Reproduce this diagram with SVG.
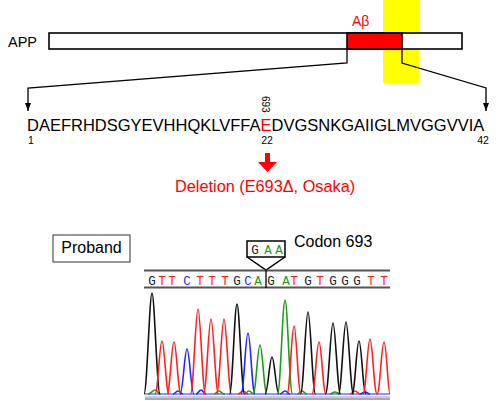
<svg xmlns="http://www.w3.org/2000/svg" width="500" height="401" viewBox="0 0 500 401">
<defs>
<style>
.t{font-family:"Liberation Sans",Arial,sans-serif;}
.red{fill:#ff0000;}
.conn{fill:none;stroke:#000;stroke-width:1.3;}
.b{font-family:"Liberation Mono","Courier New",monospace;font-size:12.5px;text-anchor:middle;}
.G{fill:#222;}.A{fill:#1a9a1a;}.T{fill:#ff1a1a;}.C{fill:#2a2aff;}
.pk{fill:none;stroke-width:1.6;stroke-linejoin:round;}
.pG{stroke:#111;}.pA{stroke:#1aa01a;}.pT{stroke:#ff2020;}.pC{stroke:#2424ff;}
</style>
<marker id="ah" markerUnits="userSpaceOnUse" markerWidth="8" markerHeight="6" refX="8" refY="3" orient="auto">
<path d="M0,0 L8,3 L0,6 z" fill="#000"/>
</marker>
</defs>
<rect width="500" height="401" fill="#fff"/>

<g id="highlight"><rect x="383" y="0" width="36" height="83" fill="#ffff00"/></g>

<g id="app">
<text class="t" x="8" y="47" font-size="14.5">APP</text>
<rect x="49" y="33" width="413" height="16" fill="#fff" stroke="#000" stroke-width="1.6"/>
<rect x="347" y="33" width="55" height="16" fill="#ff0000" stroke="#000" stroke-width="1.6"/>
<text class="t red" x="352" y="26" font-size="14">Aβ</text>
</g>

<g id="connectors">
<polyline class="conn" points="347,49 347,63 28,88 28,111" marker-end="url(#ah)"/>
<polyline class="conn" points="402,49 402,63 486,88 486,111" marker-end="url(#ah)"/>
<path d="M265,153 H270 V162 H277 L267.5,172 L258,162 H265 Z" fill="#ff0000"/>
</g>

<g id="sequence">
<text class="t" x="27" y="131" font-size="16.5">DAEFRHDSGYEVHHQKLVFFA<tspan class="red">E</tspan>DVGSNKGAIIGLMVGGVVIA</text>
<text class="t" x="31" y="144" font-size="10.5" text-anchor="middle">1</text>
<text class="t" x="267" y="144" font-size="10.5" text-anchor="middle">22</text>
<text class="t" x="483" y="144" font-size="10.5" text-anchor="middle">42</text>
<text class="t" font-size="10" transform="translate(262,96) rotate(90)">693</text>
</g>

<g id="deletion">
<text class="t red" x="175" y="192" font-size="16.3">Deletion (E693Δ, Osaka)</text>
</g>

<g id="proband">
<rect x="53" y="235" width="77" height="27" fill="#fff" stroke="#333" stroke-width="1"/>
<text class="t" x="91.5" y="253" font-size="16" text-anchor="middle">Proband</text>
</g>

<g id="codon">
<text class="t" x="294" y="247" font-size="16">Codon 693</text>
<rect x="247" y="241" width="38" height="16" fill="#fff" stroke="#000" stroke-width="1.5"/>
<polyline points="247,257 266,270 285,257" fill="none" stroke="#000" stroke-width="1.5"/>
<text class="b G" x="255" y="253.5">G</text>
<text class="b A" x="268" y="253.5">A</text>
<text class="b A" x="279" y="253.5">A</text>
</g>

<g id="trace-seq">
<line x1="144" y1="270.5" x2="390" y2="270.5" stroke="#555" stroke-width="2"/>
<line x1="144" y1="287.5" x2="390" y2="287.5" stroke="#555" stroke-width="2"/>
<line x1="266" y1="270" x2="266" y2="288" stroke="#000" stroke-width="1.3"/>
<text class="b G" x="152" y="284.5">G</text>
<text class="b T" x="162" y="284.5">T</text>
<text class="b T" x="172" y="284.5">T</text>
<text class="b C" x="187" y="284.5">C</text>
<text class="b T" x="200" y="284.5">T</text>
<text class="b T" x="212" y="284.5">T</text>
<text class="b T" x="225" y="284.5">T</text>
<text class="b G" x="237" y="284.5">G</text>
<text class="b C" x="248" y="284.5">C</text>
<text class="b A" x="258" y="284.5">A</text>
<text class="b G" x="271" y="284.5">G</text>
<text class="b A" x="286" y="284.5">A</text>
<text class="b T" x="294" y="284.5">T</text>
<text class="b G" x="308" y="284.5">G</text>
<text class="b T" x="320" y="284.5">T</text>
<text class="b G" x="333" y="284.5">G</text>
<text class="b G" x="345" y="284.5">G</text>
<text class="b G" x="357" y="284.5">G</text>
<text class="b T" x="371" y="284.5">T</text>
<text class="b T" x="384" y="284.5">T</text>
</g>

<g id="chromatogram">
<line x1="145" y1="394" x2="390" y2="394" stroke="#2424ff" stroke-width="1"/>
<line x1="145" y1="397" x2="390" y2="397" stroke="#999" stroke-width="1"/>
<line x1="145" y1="399" x2="390" y2="399" stroke="#555" stroke-width="1.2"/>
<path class="pk pA" d="M148,394 C151,394 153,390 155,390 C157,390 158,394 161,394 M214,394 C216,394 217,391 219,391 C221,391 222,394 225,394 M244,394 C246,394 247,391 249,391 C251,391 252,394 254,394 M297,394 C299,394 300,391 302,391 C304,391 305,394 307,394 M330,394 C332,394 333,392 335,392 C337,392 338,394 340,394"/>
<path class="pk pC" d="M173,394 C175,394 176,391 178,391 C180,391 181,394 183,394 M196,394 C198,394 199,390 201,390 C203,390 204,394 206,394 M280,394 C282,394 283,391 285,391 C287,391 288,394 290,394 M360,394 C362,394 363,392 365,392 C367,392 368,394 370,394"/>
<path class="pk pT" d="M238,394 C240,394 241,391 243,391 C245,391 246,394 248,394 M350,394 C352,394 353,391 355,391 C357,391 358,394 360,394"/>
<path class="pk pG" d="M144,394 C147,394 149.5,293 152,293 C154.5,293 157,394 160,394"/>
<path class="pk pT" d="M155,394 C158,394 159.5,341 162,341 C164.5,341 166,394 169,394"/>
<path class="pk pT" d="M167,394 C170,394 171.5,342 174,342 C176.5,342 178,394 181,394"/>
<path class="pk pC" d="M180,394 C183,394 184.5,349 187,349 C189.5,349 191,394 194,394"/>
<path class="pk pT" d="M190.5,394 C193.5,394 195.5,309 198,309 C200.5,309 202.5,394 205.5,394"/>
<path class="pk pT" d="M203.5,394 C206.5,394 208.5,319 211,319 C213.5,319 215.5,394 218.5,394"/>
<path class="pk pT" d="M216.5,394 C219.5,394 221.5,319 224,319 C226.5,319 228.5,394 231.5,394"/>
<path class="pk pG" d="M229.5,394 C232.5,394 234.5,304 237,304 C239.5,304 241.5,394 244.5,394"/>
<path class="pk pC" d="M241,394 C244,394 245.5,333 248,333 C250.5,333 252,394 255,394"/>
<path class="pk pA" d="M253,394 C256,394 257.5,345 260,345 C262.5,345 264,394 267,394"/>
<path class="pk pG" d="M265,394 C268,394 269.5,357 272,357 C274.5,357 276,394 279,394"/>
<path class="pk pA" d="M277.5,394 C280.5,394 282.5,300 285,300 C287.5,300 289.5,394 292.5,394"/>
<path class="pk pT" d="M287,394 C290,394 291.5,326 294,326 C296.5,326 298,394 301,394"/>
<path class="pk pG" d="M300.5,394 C303.5,394 305.5,312 308,312 C310.5,312 312.5,394 315.5,394"/>
<path class="pk pT" d="M312,394 C315,394 316.5,342 319,342 C321.5,342 323,394 326,394"/>
<path class="pk pG" d="M325.5,394 C328.5,394 330.5,323 333,323 C335.5,323 337.5,394 340.5,394"/>
<path class="pk pG" d="M338.5,394 C341.5,394 343.5,322 346,322 C348.5,322 350.5,394 353.5,394"/>
<path class="pk pG" d="M352,394 C355,394 356.5,341 359,341 C361.5,341 363,394 366,394"/>
<path class="pk pT" d="M363,394 C366,394 367.5,339 370,339 C372.5,339 374,394 377,394"/>
<path class="pk pT" d="M377,394 C380,394 381.5,342 384,342 C386.5,342 388,394 390,394"/>
</g>
</svg>
